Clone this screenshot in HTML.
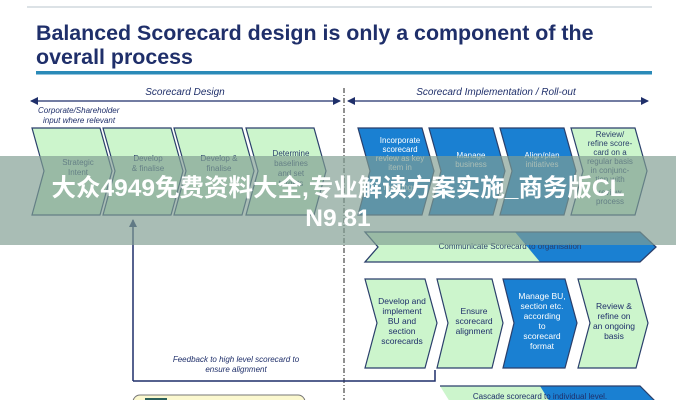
<!DOCTYPE html>
<html><head><meta charset="utf-8"><style>
html,body{margin:0;padding:0;background:#fff;}
svg{display:block;font-family:"Liberation Sans",Arial,sans-serif;}
.wm{font-family:"Liberation Sans","Noto Sans CJK SC",sans-serif;}
</style></head><body>
<svg width="676" height="400" viewBox="0 0 676 400" xmlns="http://www.w3.org/2000/svg">
<defs>
<marker id="ah" markerWidth="8" markerHeight="8" refX="7" refY="4" orient="auto-start-reverse" markerUnits="userSpaceOnUse"><path d="M0,0 L8,4 L0,8 Z" fill="#1f2f6a"/></marker>
</defs>
<line x1="27" y1="7" x2="652" y2="7" stroke="#b8c4cc" stroke-width="1"/>
<text x="36" y="40" font-size="21.4" font-weight="bold" fill="#1f2f6a">Balanced Scorecard design is only a component of the</text>
<text x="36" y="64" font-size="21.4" font-weight="bold" fill="#1f2f6a">overall process</text>
<rect x="36" y="71" width="616" height="3.5" fill="#2a8ab8"/>

<text x="185" y="95" font-size="10" font-style="italic" text-anchor="middle" fill="#1f2f6a">Scorecard Design</text>
<text x="496" y="95" font-size="10" font-style="italic" text-anchor="middle" fill="#1f2f6a">Scorecard Implementation / Roll-out</text>
<line x1="31" y1="101" x2="340" y2="101" stroke="#1f2f6a" stroke-width="1.3" marker-start="url(#ah)" marker-end="url(#ah)"/>
<line x1="348" y1="101" x2="648" y2="101" stroke="#1f2f6a" stroke-width="1.3" marker-start="url(#ah)" marker-end="url(#ah)"/>
<line x1="344" y1="88" x2="344" y2="400" stroke="#222" stroke-width="1" stroke-dasharray="5,2,1,2"/>

<text x="38" y="113" font-size="8" font-style="italic" fill="#1f2f6a">Corporate/Shareholder</text>
<text x="43" y="123" font-size="8" font-style="italic" fill="#1f2f6a">input where relevant</text>

<g stroke="#2a3f6b" stroke-width="1.2">
<path d="M32,128 L100,128 L112,171 L100,215 L32,215 L44,171 Z" fill="#ccf5cc"/>
<path d="M103,128 L171,128 L183,171 L171,215 L103,215 L115,171 Z" fill="#ccf5cc"/>
<path d="M174,128 L242,128 L254,171 L242,215 L174,215 L186,171 Z" fill="#ccf5cc"/>
<path d="M246,128 L314,128 L326,171 L314,215 L246,215 L258,171 Z" fill="#ccf5cc"/>
<path d="M358,128 L422,128 L434,171 L422,215 L358,215 L370,171 Z" fill="#1a80d2"/>
<path d="M429,128 L493,128 L505,171 L493,215 L429,215 L441,171 Z" fill="#1a80d2"/>
<path d="M500,128 L564,128 L576,171 L564,215 L500,215 L512,171 Z" fill="#1a80d2"/>
<path d="M571,128 L635,128 L647,171 L635,215 L571,215 L583,171 Z" fill="#ccf5cc"/>
</g>
<g font-size="8" text-anchor="middle" fill="#2a3f6b">
<text x="78" y="165">Strategic</text><text x="78" y="175">Intent</text>
<text x="148" y="161">Develop</text><text x="148" y="171">&amp; finalise</text>
<text x="219" y="161">Develop &amp;</text><text x="219" y="171">finalise</text>
<text x="291" y="156">Determine</text><text x="291" y="166">baselines</text><text x="291" y="176">and set</text><text x="291" y="186">targets</text>
<g fill="#fff"><text x="400" y="143">Incorporate</text><text x="400" y="152">scorecard</text><text x="400" y="161">review as key</text><text x="400" y="170">item in</text><text x="400" y="190">meetings</text>
<text x="471" y="158">Manage</text><text x="471" y="167">business</text>
<text x="542" y="158">Align/plan</text><text x="542" y="167">initiatives</text></g>
<text x="610" y="137">Review/</text><text x="610" y="146">refine score-</text><text x="610" y="155">card on a</text><text x="610" y="164">regular basis</text><text x="610" y="173">in conjunc-</text><text x="610" y="182">tion with</text><text x="610" y="195">review</text><text x="610" y="204">process</text>
</g>

<path d="M365,232 L540,232 L560,262 L365,262 L378,247 Z" fill="#ccf5cc"/>
<path d="M515,232 L640,232 L656,247 L640,262 L540,262 Z" fill="#1a80d2"/>
<path d="M365,232 L640,232 L656,247 L640,262 L365,262 L378,247 Z" fill="none" stroke="#2a3f6b" stroke-width="1.3"/>
<text x="510" y="249" font-size="8" text-anchor="middle" fill="#2a3f6b">Communicate Scorecard to organisation</text>

<g stroke="#2a3f6b" stroke-width="1.2">
<path d="M365,279 L425,279 L437,323 L425,368 L365,368 L377,323 Z" fill="#ccf5cc"/>
<path d="M437,279 L492,279 L503,323 L492,368 L437,368 L448,323 Z" fill="#ccf5cc"/>
<path d="M503,279 L565,279 L577,323 L565,368 L503,368 L514,323 Z" fill="#1a80d2"/>
<path d="M578,279 L636,279 L648,323 L636,368 L578,368 L590,323 Z" fill="#ccf5cc"/>
</g>
<g font-size="8.5" text-anchor="middle" fill="#1f2f6a">
<text x="402" y="304">Develop and</text><text x="402" y="314">implement</text><text x="402" y="324">BU and</text><text x="402" y="334">section</text><text x="402" y="344">scorecards</text>
<text x="474" y="314">Ensure</text><text x="474" y="324">scorecard</text><text x="474" y="334">alignment</text>
<g fill="#fff"><text x="542" y="299">Manage BU,</text><text x="542" y="309">section etc.</text><text x="542" y="319">according</text><text x="542" y="329">to</text><text x="542" y="339">scorecard</text><text x="542" y="349">format</text></g>
<text x="614" y="309">Review &amp;</text><text x="614" y="319">refine on</text><text x="614" y="329">an ongoing</text><text x="614" y="339">basis</text>
</g>

<path d="M133,381 L435,381 L435,370" fill="none" stroke="#1f2f6a" stroke-width="1.5"/>
<line x1="133" y1="381" x2="133" y2="220" stroke="#1f2f6a" stroke-width="1.5" marker-end="url(#ah)"/>
<text x="236" y="362" font-size="8" font-style="italic" text-anchor="middle" fill="#1f2f6a">Feedback to high level scorecard to</text>
<text x="236" y="372" font-size="8" font-style="italic" text-anchor="middle" fill="#1f2f6a">ensure alignment</text>

<path d="M440,386 L550,386 L560,402 L450,402 Z" fill="#ccf5cc"/>
<path d="M540,386 L640,386 L656,402 L550,402 Z" fill="#1a80d2"/>
<path d="M440,386 L640,386 L656,402" fill="none" stroke="#2a3f6b" stroke-width="1.2"/>
<text x="540" y="399" font-size="8" text-anchor="middle" fill="#1f2f6a">Cascade scorecard to individual level.</text>

<rect x="133" y="395" width="172" height="20" rx="7" fill="#fbf8cf" stroke="#777" stroke-width="1"/>
<rect x="145" y="398" width="22" height="10" fill="#2a5f5a"/>

<rect x="0" y="156" width="676" height="89" fill="rgba(128,158,146,0.68)"/>
<text class="wm" x="338" y="196" font-size="24.5" font-weight="bold" text-anchor="middle" fill="#fff">大众4949免费资料大全,专业解读方案实施_商务版CL</text>
<text class="wm" x="338" y="226" font-size="24.5" font-weight="bold" text-anchor="middle" fill="#fff">N9.81</text>
</svg>
</body></html>
